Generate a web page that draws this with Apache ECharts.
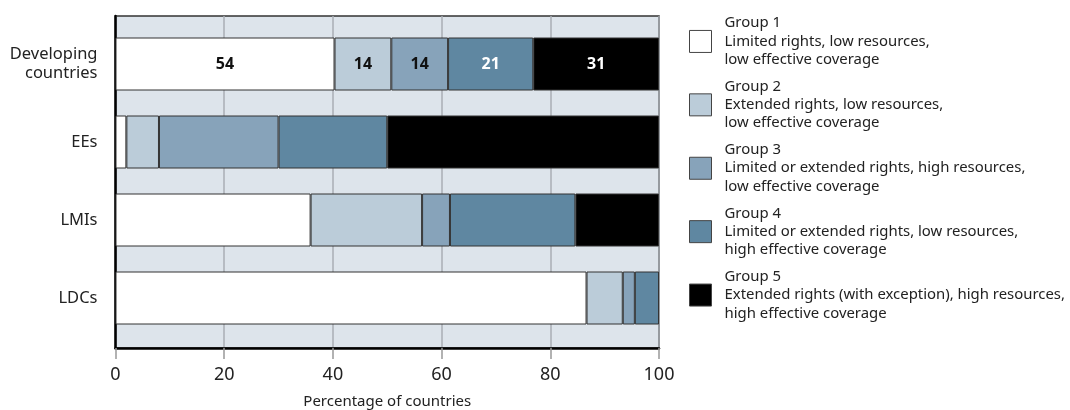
<!DOCTYPE html>
<html>
<head>
<meta charset="utf-8">
<script src="https://cdn.jsdelivr.net/npm/echarts@6/dist/echarts.min.js"></script>
<style>
html,body{margin:0;padding:0;background:#fff;}
#chart{width:1070px;height:410px;}
</style>
</head>
<body>
<div id="chart"></div>
<script>
// Categories (rows) and counts of countries per group
const categories = ['Developing\ncountries', 'EEs', 'LMIs', 'LDCs'];
const groupNames = ['Group 1', 'Group 2', 'Group 3', 'Group 4', 'Group 5'];
const groupDescriptions = [
  'Limited rights, low resources,\nlow effective coverage',
  'Extended rights, low resources,\nlow effective coverage',
  'Limited or extended rights, high resources,\nlow effective coverage',
  'Limited or extended rights, low resources,\nhigh effective coverage',
  'Extended rights (with exception), high resources,\nhigh effective coverage'
];
const group1Counts = [54, 1, 14, 39];
const group2Counts = [14, 3, 8, 3];
const group3Counts = [14, 11, 2, 1];
const group4Counts = [21, 10, 9, 2];
const group5Counts = [31, 25, 6, 0];
const xTicks = [0, 20, 40, 60, 80, 100];

const groupCounts = [group1Counts, group2Counts, group3Counts, group4Counts, group5Counts];
const colors = ['#ffffff', '#bbccd9', '#87a3ba', '#5f87a1', '#000000'];
const labelColors = ['#111', '#111', '#111', '#fff', '#fff'];
const rowTotals = categories.map((_, j) => groupCounts.reduce((s, g) => s + g[j], 0));

const FONT = 'Noto Sans';

const series = groupCounts.map((counts, i) => ({
  name: groupNames[i],
  type: 'bar',
  stack: 'total',
  xAxisIndex: 1,
  yAxisIndex: 1,
  barWidth: 53,
  itemStyle: { color: colors[i], borderColor: '#333', borderWidth: 1 },
  label: {
    show: false,
    position: 'inside',
    color: labelColors[i],
    fontFamily: FONT,
    fontWeight: 'bold',
    fontSize: 16
  },
  data: counts.map((c, j) => ({
    value: c / rowTotals[j] * 100,
    label: { show: j === 0, formatter: String(c) }
  }))
}));

const chart = echarts.init(document.getElementById('chart'), null, { renderer: 'canvas' });
chart.setOption({
  animation: false,
  textStyle: { fontFamily: FONT },
  grid: [
    { left: 115.5, top: 16, width: 543.5, height: 332, show: true, outerBoundsMode: 'none', containLabel: false,
      backgroundColor: '#dde4eb', borderColor: '#333', borderWidth: 1.5, z: 0 },
    { left: 115.5, top: 25, width: 543.5, height: 312, outerBoundsMode: 'none', containLabel: false }
  ],
  xAxis: [
    { type: 'value', gridIndex: 0, min: 0, max: 100, interval: 20,
      name: 'Percentage of countries', nameLocation: 'middle', nameGap: 46,
      nameTextStyle: { fontSize: 15, color: '#222', fontFamily: FONT },
      axisLine: { show: true, lineStyle: { color: '#000', width: 2.5 } },
      axisTick: { show: true, length: 11, lineStyle: { color: '#999', width: 1.5 } },
      splitLine: { show: true, lineStyle: { color: '#a9aeb4', width: 1.5 } },
      axisLabel: { fontSize: 18, color: '#222', margin: 18, fontFamily: FONT,
        formatter: v => xTicks.includes(v) ? String(v) : '' }
    },
    { type: 'value', gridIndex: 1, min: 0, max: 100, show: false }
  ],
  yAxis: [
    { type: 'value', gridIndex: 0, min: 0, max: 1,
      axisLine: { show: true, lineStyle: { color: '#000', width: 2.5 } },
      axisTick: { show: false }, axisLabel: { show: false }, splitLine: { show: false } },
    { type: 'category', gridIndex: 1, data: categories, inverse: true,
      axisLine: { show: false }, axisTick: { show: false },
      axisLabel: { fontSize: 16.5, color: '#222', margin: 18, lineHeight: 19, fontFamily: FONT } }
  ],
  legend: {
    orient: 'vertical',
    left: 689,
    top: 14,
    padding: 0,
    itemWidth: 22,
    itemHeight: 22,
    itemGap: 8.5,
    icon: 'rect',
    selectedMode: false,
    itemStyle: { borderColor: '#444', borderWidth: 1 },
    textStyle: { fontSize: 14.9, lineHeight: 18.3, color: '#222', fontFamily: FONT, padding: [0, 0, 0, 8] },
    formatter: name => name + '\n' + groupDescriptions[groupNames.indexOf(name)],
    data: groupNames
  },
  series: series
});
</script>
</body>
</html>
